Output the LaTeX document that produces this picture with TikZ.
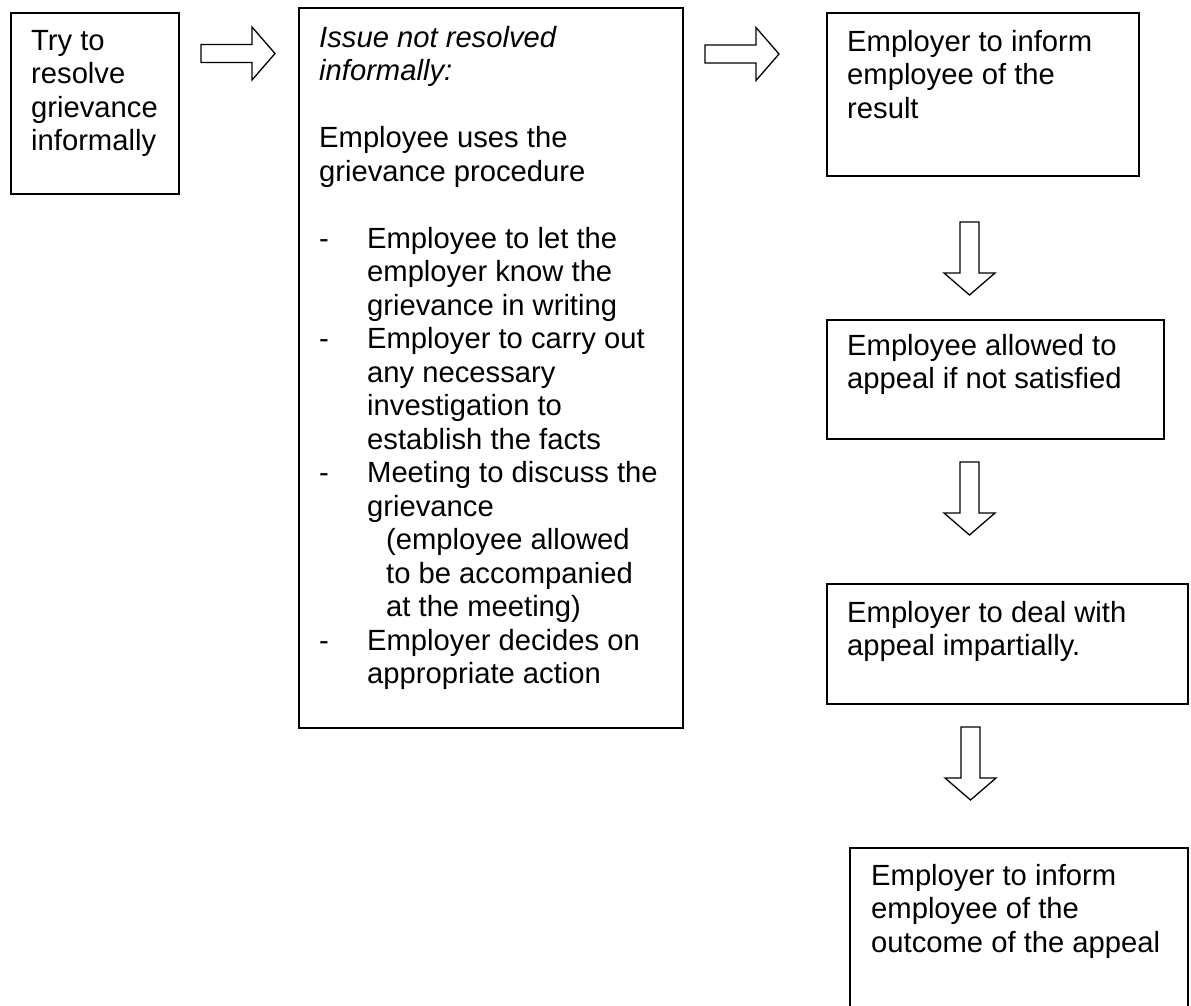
\documentclass[tikz,border=0pt]{standalone}
\usepackage{fontspec}
\setmainfont{Liberation Sans}
\begin{document}
\begin{tikzpicture}[x=1pt,y=-1pt,
  box/.style={draw,line width=1.9pt,rectangle,inner sep=0pt,anchor=north west},
  txt/.style={anchor=base west,align=left,inner sep=0pt,font=\fontsize{29.2}{33.5}\selectfont},
  arr/.style={draw,line width=1.3pt,line join=miter,fill=white},
  rarrow/.pic={\path[arr] (0,-9)--(51,-9)--(51,-26.5)--(74,0)--(51,26.5)--(51,9)--(0,9)--cycle;},
  darrow/.pic={\path[arr] (-9.5,0)--(-9.5,51)--(-25.5,51)--(0,73)--(25.5,51)--(9.5,51)--(9.5,0)--cycle;}
]
\useasboundingbox[fill=white] (0,0) rectangle (1191,1005);

\node[box,minimum width=168pt,minimum height=181pt] (b1) at (10,12) {};
\node[box,minimum width=384pt,minimum height=720pt] (b2) at (298,7) {};
\node[box,minimum width=312pt,minimum height=163pt] (b3) at (826,12) {};
\node[box,minimum width=337pt,minimum height=119pt] (b4) at (826,319) {};
\node[box,minimum width=361pt,minimum height=120pt] (b5) at (826,583) {};
\node[box,minimum width=338pt,minimum height=180pt] (b6) at (849,847) {};

% text nodes are placed at the baseline of their last line
\node[txt] (t1) at (31,150.5) {Try to\\resolve\\grievance\\informally};
\node[txt] (t2) at (319,683.5) {\textit{Issue not resolved}\\
\textit{informally:}\\
\mbox{}\\
Employee uses the\\
grievance procedure\\
\mbox{}\\
\makebox[48pt][l]{-}Employee to let the\\
\hspace*{48pt}employer know the\\
\hspace*{48pt}grievance in writing\\
\makebox[48pt][l]{-}Employer to carry out\\
\hspace*{48pt}any necessary\\
\hspace*{48pt}investigation to\\
\hspace*{48pt}establish the facts\\
\makebox[48pt][l]{-}Meeting to discuss the\\
\hspace*{48pt}grievance\\
\hspace*{67pt}(employee allowed\\
\hspace*{67pt}to be accompanied\\
\hspace*{67pt}at the meeting)\\
\makebox[48pt][l]{-}Employer decides on\\
\hspace*{48pt}appropriate action};
\node[txt] (t3) at (847,118) {Employer to inform\\employee of the\\result};
\node[txt] (t4) at (847,388.5) {Employee allowed to\\appeal if not satisfied};
\node[txt] (t5) at (847,655.5) {Employer to deal with\\appeal impartially.};
\node[txt] (t6) at (871,952) {Employer to inform\\employee of the\\outcome of the appeal};

\coordinate (h1) at (201,53.5);
\coordinate (h2) at (705,54);
\coordinate (d1) at (969.5,222);
\coordinate (d2) at (969.5,462);
\coordinate (d3) at (970.5,727);
\pic at (h1) {rarrow};
\pic at (h2) {rarrow};
\pic at (d1) {darrow};
\pic at (d2) {darrow};
\pic at (d3) {darrow};
\end{tikzpicture}
\end{document}
